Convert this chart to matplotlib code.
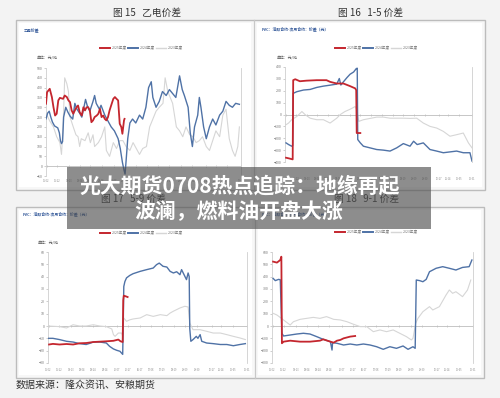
import matplotlib.pyplot as plt
import numpy as np
import pandas as pd
from matplotlib.patches import Rectangle

plt.rcParams['font.family'] = ['Noto Sans CJK SC', 'DejaVu Sans']

W, H = 500, 398

# ---------------- data (day of year, value) ----------------
series_names = ['2025年度', '2024年度', '2023年度']
date_labels = ['01-02', '01-22', '02-13', '03-04', '03-24', '04-14', '05-07', '05-27', '06-17',
               '07-08', '07-29', '08-19', '09-09', '09-30', '10-27', '11-14', '12-05', '12-31']

# 图15 乙电价差
yd_2025_x = [0, 2, 7, 11, 14, 17, 20, 23, 26, 32, 35, 39, 42, 45, 48, 51, 54, 57, 60, 63, 67, 70, 73, 76,
             79, 82, 85, 88, 91, 95, 98, 101, 104, 107, 110, 113, 116, 119, 123, 126, 129, 132, 135, 138,
             141, 143, 146, 147]
yd_2025_y = [318, 377, 394, 352, 300, 258, 267, 335, 348, 343, 360, 352, 335, 326, 284, 267, 284, 300, 309,
             275, 258, 300, 284, 300, 300, 284, 224, 233, 250, 258, 267, 292, 250, 258, 241, 233, 250, 284,
             318, 343, 352, 343, 335, 216, 199, 165, 233, 241]
yd_2024_x = [0, 3, 6, 9, 12, 16, 19, 22, 25, 27, 29, 31, 33, 37, 41, 45, 50, 54, 58, 63, 67, 71, 74, 77,
             82, 88, 91, 94, 100, 103, 110, 116, 122, 128, 135, 139, 143, 146, 148, 150, 153, 157, 162, 168,
             175, 181, 187, 192, 197, 200, 206, 212, 218, 225, 231, 237, 243, 250, 255, 259, 266, 270, 274,
             278, 284, 287, 290, 295, 300, 306, 312, 318, 325, 331, 337, 343, 349, 355, 362]
yd_2024_y = [241, 270, 280, 250, 225, 205, 200, 195, 170, 130, 115, 125, 250, 300, 275, 255, 240, 320, 290,
             270, 250, 300, 340, 310, 280, 330, 360, 320, 290, 310, 260, 230, 200, 180, 140, 90, 20, -20,
             -40, 30, 140, 220, 240, 220, 260, 240, 300, 400, 430, 350, 300, 330, 380, 360, 390, 370, 350,
             460, 390, 360, 300, 170, 100, 200, 260, 350, 300, 200, 140, 200, 240, 210, 260, 280, 330, 310,
             300, 320, 315]
yd_2023_x = [0, 7, 14, 20, 26, 29, 32, 35, 39, 42, 45, 51, 56, 60, 63, 66, 73, 79, 83, 88, 91, 98, 104,
             110, 113, 119, 126, 132, 138, 144, 150, 157, 163, 169, 175, 181, 188, 194, 200, 206, 212, 219,
             223, 228, 231, 237, 244, 250, 256, 262, 269, 275, 281, 287, 293, 300, 306, 312, 318, 325, 331,
             337, 343, 349, 354, 359, 362]
yd_2023_y = [270, 230, 200, 150, 120, 60, 200, 450, 420, 380, 250, 200, 160, 150, 100, 140, 130, 170, 120,
             160, 100, 120, 150, 200, 80, 50, 120, 90, 130, 130, 100, 80, 120, 90, 60, 90, 100, 200, 240,
             280, 300, 320, 450, 380, 360, 320, 200, 180, 150, 200, 160, 150, 120, 130, 150, 100, 80, 130,
             180, 150, 260, 290, 140, 80, 50, 100, 200]

# 图16 1-5价差
s15_2025_x = [2, 8, 15, 16, 20, 29, 42, 62, 81, 88, 101, 114, 127, 137, 139, 140, 143, 147]
s15_2025_y = [-364, -370, -378, 289, 297, 280, 285, 289, 289, 275, 261, 261, 239, 220, 205, -156, -156, -156]
s15_2024_x = [2, 7, 13, 15, 16, 23, 36, 49, 62, 75, 88, 101, 106, 109, 114, 121, 127, 134, 139, 141, 142,
              147, 153, 166, 179, 192, 205, 218, 231, 244, 251, 258, 270, 283, 296, 309, 322, 335, 348, 361, 365]
s15_2024_y = [-239, -253, -267, -260, 178, 192, 206, 211, 228, 239, 247, 256, 303, 248, 275, 311, 339, 358,
              386, 390, -211, -239, -267, -281, -295, -300, -308, -281, -245, -267, -225, -253, -239, -295,
              -308, -322, -315, -308, -322, -322, -392]
s15_2023_x = [2, 7, 13, 23, 33, 39, 49, 62, 75, 88, 101, 108, 117, 127, 137, 140, 144, 153, 166, 179, 192,
              205, 218, 231, 244, 257, 270, 283, 296, 309, 322, 335, 348, 358, 365]
s15_2023_y = [-86, -72, -44, -17, 25, 0, -31, -44, -44, -72, -31, 0, 25, 44, 67, 40, -58, -44, -33, -22,
              -22, -31, -31, -31, -33, -31, -72, -100, -114, -142, -183, -170, -156, -239, -281]

# 图17 5-9价差
s59_2025_x = [2, 9, 21, 34, 46, 58, 70, 83, 95, 107, 120, 129, 133, 137, 138, 139, 143, 146]
s59_2025_y = [-15, -14.5, -15, -14.6, -15, -14, -13.8, -13, -12.7, -12.4, -12, -11, -12.4, -13, 21, 24.6,
              24, 23.5]
s59_2024_x = [0, 9, 21, 34, 46, 58, 70, 77, 83, 95, 107, 113, 120, 126, 132, 137, 138, 139, 141, 144, 150,
              156, 169, 181, 193, 199, 204, 211, 218, 224, 230, 236, 242, 245, 251, 254, 257, 259, 260, 262,
              266, 272, 275, 279, 282, 291, 303, 316, 328, 340, 352, 362]
s59_2024_y = [-10, -10, -11, -12.4, -13, -14.3, -15, -14, -13, -13, -13.8, -16.5, -18.6, -19.7, -20.5, -23,
              2, 32, 36, 39, 41, 42.4, 44.3, 45.7, 47, 49.7, 51, 48.4, 47.8, 44.3, 43, 44, 41.6, 45.7, 40.3,
              37.6, 43, 40, -2, -12.4, -11, -8.4, -10, -7, -12.4, -13.8, -14.3, -15, -15, -16, -15, -14.3]
s59_2023_x = [0, 21, 34, 46, 58, 70, 83, 95, 107, 117, 120, 123, 129, 135, 137, 139, 144, 150, 156, 169, 181,
              193, 206, 218, 224, 230, 242, 251, 257, 260, 263, 266, 279, 291, 303, 316, 328, 340, 352, 362]
s59_2023_y = [0, -0.5, -1.6, 1, 0, 0, 1, 0, -0.5, -2.4, -7, -8.4, -5.7, -5.7, -8.4, 6.5, 3.8, 5, 5.7, 6.5,
              9.2, 7.8, 9.2, 8.4, 10.5, 12, 14.6, 16, 15.4, 2.4, -0.3, -3, -3, -4.3, -5.7, -5.7, -7, -8.4,
              -9.7, -11]

# 图18 9-1价差
s91_2025_x = [2, 9, 15, 17, 18, 21, 33, 51, 69, 87, 93, 106, 112, 118, 124, 130, 142, 151]
s91_2025_y = [522, 514, 535, 562, -140, -127, -119, -127, -127, -119, -108, -127, -135, -119, -113, -100,
              -86, -81]
s91_2024_x = [2, 6, 12, 15, 18, 21, 33, 45, 57, 69, 81, 93, 106, 109, 110, 118, 130, 142, 154, 166, 178, 190,
              202, 214, 226, 238, 247, 256, 260, 262, 268, 274, 280, 286, 298, 310, 322, 334, 346, 358, 363]
s91_2024_y = [386, 368, 378, 375, -59, -81, -73, -65, -59, -65, -86, -108, -127, -195, -135, -140, -154,
              -146, -154, -146, -154, -168, -189, -168, -181, -162, -189, -168, -181, 373, 368, 359, 378,
              440, 468, 481, 468, 454, 475, 481, 535]
s91_2023_x = [2, 9, 21, 33, 39, 51, 63, 75, 87, 99, 112, 124, 136, 148, 160, 172, 184, 196, 208, 220, 232,
              244, 253, 256, 261, 265, 274, 286, 292, 304, 316, 322, 328, 334, 346, 355, 361]
s91_2023_y = [103, 89, 49, 8, 35, 54, 62, 70, 62, 76, 54, 49, 35, 14, -5, -5, -46, -32, -46, -32, -59, -86,
              -113, -100, 22, 62, 116, 157, 130, 157, 251, 292, 265, 278, 238, 292, 373]

colors = ['#c4262e', '#4f72a6', '#d6d6d6']
widths = [1.3, 1.0, 0.8]

fig = plt.figure(figsize=(W / 100, H / 100), dpi=100)
fig.patch.set_facecolor('#f3f3f3')

# background layer: panels, titles
bg = fig.add_axes([0, 0, 1, 1], zorder=0)
bg.set_xlim(0, W)
bg.set_ylim(H, 0)
bg.axis('off')

for (l, t, r, b, mid) in [(16, 20, 485, 190, 254), (16, 207, 484, 378, 255)]:
    bg.add_patch(Rectangle((l, t), r - l, b - t, facecolor='#f7f7f7', edgecolor='#bcbcbc', lw=1.0))
    bg.add_patch(Rectangle((l + 3, t + 3), mid - l - 6, b - t - 6, facecolor='white', edgecolor='none'))
    bg.add_patch(Rectangle((mid + 3, t + 3), r - mid - 6, b - t - 6, facecolor='white', edgecolor='none'))
    bg.plot([mid, mid], [t, b], color='#c8c8c8', lw=0.9)

titles = [('图 15   乙电价差', 147, 13), ('图 16   1-5 价差', 371, 13),
          ('图 17   5-9 价差', 133, 199), ('图 18   9-1 价差', 367, 199)]
for txt, x, y in titles:
    bg.text(x, y, txt, ha='center', va='center', fontsize=7, color='#333333')
bg.text(16, 385, '数据来源：隆众资讯、安粮期货', ha='left', va='center', fontsize=7.2, color='#333333')

# small chart headers and units
heads = [('乙电价差', 24, 31), ('PVC：活跃合约-次月合约：价差（元）', 262, 30),
         ('PVC：活跃合约-次月合约：价差（元）', 23, 215), ('PVC：活跃合约-次月合约：价差（元）', 262, 215)]
for txt, x, y in heads:
    bg.text(x, y, txt, ha='left', va='center', fontsize=2.8, color='#2f5597', fontweight='bold')
for x, y in [(37, 58), (277, 58), (38, 243)]:
    bg.text(x, y, '单位：元/吨', ha='left', va='center', fontsize=2.8, color='#555555')

# legends
legend_pos = [(100, 48), (335, 48), (100, 233), (335, 232)]
for lx, ly in legend_pos:
    for i, name in enumerate(series_names):
        x0 = lx + i * 28
        bg.plot([x0, x0 + 10], [ly, ly], color=colors[i], lw=1.4 if i < 2 else 1.0)
        bg.text(x0 + 12, ly, name, ha='left', va='center', fontsize=2.6, color='#777777')

# chart axes
doy = [pd.Timestamp('2024-' + d).dayofyear - 1 for d in date_labels]

charts = [
    ((46, 68, 241, 176), (-50, 500), 50, 2.5,
     [(yd_2025_x, yd_2025_y), (yd_2024_x, yd_2024_y), (yd_2023_x, yd_2023_y)]),
    ((285, 67, 472, 162), (-400, 400), 100, 11,
     [(s15_2025_x, s15_2025_y), (s15_2024_x, s15_2024_y), (s15_2023_x, s15_2023_y)]),
    ((48, 252, 247, 363), (-30, 60), 10, 3.5,
     [(s59_2025_x, s59_2025_y), (s59_2024_x, s59_2024_y), (s59_2023_x, s59_2023_y)]),
    ((272, 252, 473, 363), (-300, 600), 100, 3.5,
     [(s91_2025_x, s91_2025_y), (s91_2024_x, s91_2024_y), (s91_2023_x, s91_2023_y)]),
]

for (l, t, r, b), ylim, step, pad, lines in charts:
    ax = fig.add_axes([l / W, 1 - b / H, (r - l) / W, (b - t) / H], zorder=1)
    ax.set_facecolor('none')
    ax.set_xlim(0, 365)
    ax.set_ylim(*ylim)
    for s in ['top', 'bottom']:
        ax.spines[s].set_visible(False)
    for s in ['left', 'right']:
        ax.spines[s].set_color('#cfcfcf')
        ax.spines[s].set_linewidth(0.6)
    ax.set_yticks(np.arange(ylim[0], ylim[1] + step, step))
    ax.tick_params(axis='y', labelsize=2.6, labelcolor='#777777', color='#bbbbbb',
                   length=1.5, width=0.5, pad=1)
    ax.set_xticks(doy)
    ax.set_xticklabels(date_labels)
    ax.tick_params(axis='x', labelsize=1.8, labelcolor='#888888', length=0, pad=pad)
    ax.axhline(0, color='#bdbdbd', lw=0.6, zorder=1)
    ax.plot(doy, np.zeros(len(doy)), '|', color='#bdbdbd', ms=1.5, mew=0.5, zorder=1)
    for i in [2, 1, 0]:
        ax.plot(lines[i][0], lines[i][1], color=colors[i], lw=widths[i], zorder=2 + (2 - i))

# overlay headline
top = fig.add_axes([0, 0, 1, 1], zorder=10)
top.set_facecolor('none')
top.set_xlim(0, W)
top.set_ylim(H, 0)
top.axis('off')
top.add_patch(Rectangle((67, 167), 364, 62, facecolor='#505050', alpha=0.65, edgecolor='none'))
top.text(240, 186, '光大期货0708热点追踪：地缘再起', ha='center', va='center', fontsize=15,
         color='white', fontweight='bold')
top.text(239, 212, '波澜，燃料油开盘大涨', ha='center', va='center', fontsize=15,
         color='white', fontweight='bold')

fig.savefig('out.png', dpi=100, facecolor=fig.get_facecolor())
